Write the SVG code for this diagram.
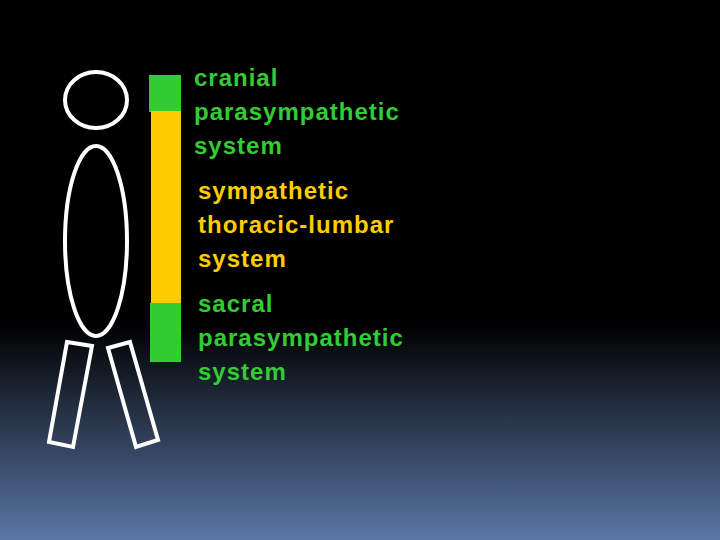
<svg xmlns="http://www.w3.org/2000/svg" width="720" height="540" viewBox="0 0 720 540">
<defs>
<linearGradient id="bg" x1="0" y1="0" x2="0" y2="1">
<stop offset="0" stop-color="#000"/><stop offset="0.6" stop-color="#000"/><stop offset="1" stop-color="#5a77a6"/>
</linearGradient>
<style>
.fig{fill:none;stroke:#fff;stroke-width:4}
text{font-family:"Liberation Sans",Arial,sans-serif;font-size:24px;font-weight:bold;letter-spacing:1px}
.g{fill:#33cc33}.y{fill:#ffcc00}
</style>
</defs>
<rect width="720" height="540" fill="url(#bg)"/>
<g id="figure">
<ellipse class="fig" cx="96" cy="100" rx="31" ry="28"/>
<ellipse class="fig" cx="96" cy="241" rx="31" ry="95"/>
<polygon class="fig" points="67,342 92,346 73,447 49,442"/>
<polygon class="fig" points="108,348 130,342 158,440 136,447"/>
</g>
<g id="bar">
<rect x="149" y="75" width="32" height="37" fill="#33cc33"/>
<rect x="151" y="111" width="30" height="193" fill="#ffcc00"/>
<rect x="150" y="303" width="31" height="59" fill="#33cc33"/>
</g>
<g id="cranial"><text class="g" x="194" y="86">cranial</text><text class="g" x="194" y="120">parasympathetic</text><text class="g" x="194" y="154">system</text></g>
<g id="sympathetic"><text class="y" x="198" y="199">sympathetic</text><text class="y" x="198" y="233">thoracic-lumbar</text><text class="y" x="198" y="267">system</text></g>
<g id="sacral"><text class="g" x="198" y="312">sacral</text><text class="g" x="198" y="346">parasympathetic</text><text class="g" x="198" y="380">system</text></g>
</svg>
